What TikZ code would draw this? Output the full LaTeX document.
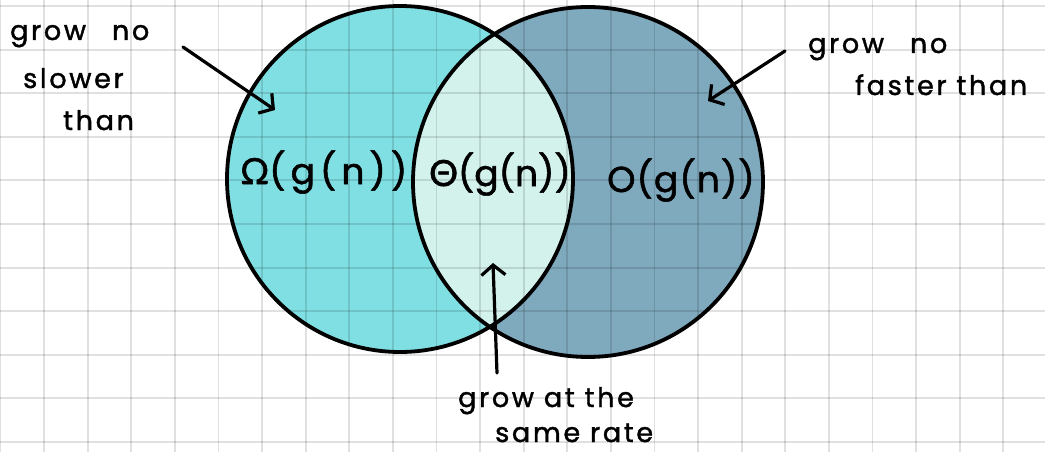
\documentclass[tikz,border=0pt]{standalone}
\usepackage{fontspec}
\setmainfont{Poppins}
\newfontfamily\greekfont{Lato}
\usetikzlibrary{arrows.meta}
\definecolor{omegafill}{RGB}{127,223,226}
\definecolor{bigofill}{RGB}{127,169,189}
\definecolor{thetafill}{RGB}{212,242,236}
\begin{document}
\begin{tikzpicture}[x=1pt,y=-1pt,
  gridline/.style={draw=black,opacity=0.12,line width=1.9pt},
  ring/.style={draw=black,line width=3.8pt},
  pointer/.style={draw=black,line width=3.2pt,line cap=round,line join=round,
    -{Straight Barb[length=10pt,width=24pt]}},
  note/.style={font=\fontsize{27}{30}\selectfont\addfontfeatures{LetterSpace=10,FakeBold=1.5},
    anchor=base west,inner sep=0pt},
  setlabel/.style={anchor=base west,inner sep=0pt}]
\useasboundingbox (0,0) rectangle (1045,452);
\fill[white] (0,0) rectangle (1045,452);
% fills
\fill[omegafill] (400,179) circle[radius=173pt];
\fill[bigofill] (588,182) circle[radius=175pt];
\begin{scope}
  \clip (400,179) circle[radius=173pt];
  \fill[thetafill] (588,182) circle[radius=175pt];
\end{scope}
% grid
\foreach \k in {0,...,23} {\draw[gridline] ({0.5+43.6*\k},0) -- ({0.5+43.6*\k},452);}
\foreach \k in {0,...,10} {\draw[gridline] (0,{6+43.6*\k}) -- (1045,{6+43.6*\k});}
% outlines
\draw[ring] (400,179) circle[radius=173pt];
\draw[ring] (588,182) circle[radius=175pt];
% set labels
\node[setlabel,font=\fontsize{36}{40}\selectfont\addfontfeatures{LetterSpace=14,FakeBold=1.5}] (omega) at (240,184) {{\greekfont\addfontfeatures{FakeBold=1.5}Ω}(g(n))};
\node[setlabel,font=\fontsize{36}{40}\selectfont\addfontfeatures{LetterSpace=0,FakeBold=1.5}] (theta) at (429,186) {{\greekfont\addfontfeatures{FakeBold=1.5}Θ}(g(n))};
\node[setlabel,font=\fontsize{36}{40}\selectfont\addfontfeatures{LetterSpace=3,FakeBold=1.5}] (bigo) at (607,192) {O(g(n))};
% notes
\node[note] (l1) at (10,40) {grow\hspace{26pt}no};
\node[note] (l2) at (23,88) {slower};
\node[note] (l3) at (63,130) {than};
\node[note] (r1) at (808,53) {grow\hspace{26pt}no};
\node[note] (r2) at (855,95) {faster than};
\node[note] (b1) at (458,407) {grow at the};
\node[note] (b2) at (495,442) {same rate};
% arrow ends
\coordinate (lstart) at (183,47);
\coordinate (ltip) at (275,110);
\coordinate (rstart) at (785,51);
\coordinate (rtip) at (708,101);
\coordinate (bstart) at (497,373);
\coordinate (btip) at (493,263);
\draw[pointer] (lstart) -- (ltip);
\draw[pointer] (rstart) -- (rtip);
\draw[pointer] (bstart) -- (btip);
\end{tikzpicture}
\end{document}
